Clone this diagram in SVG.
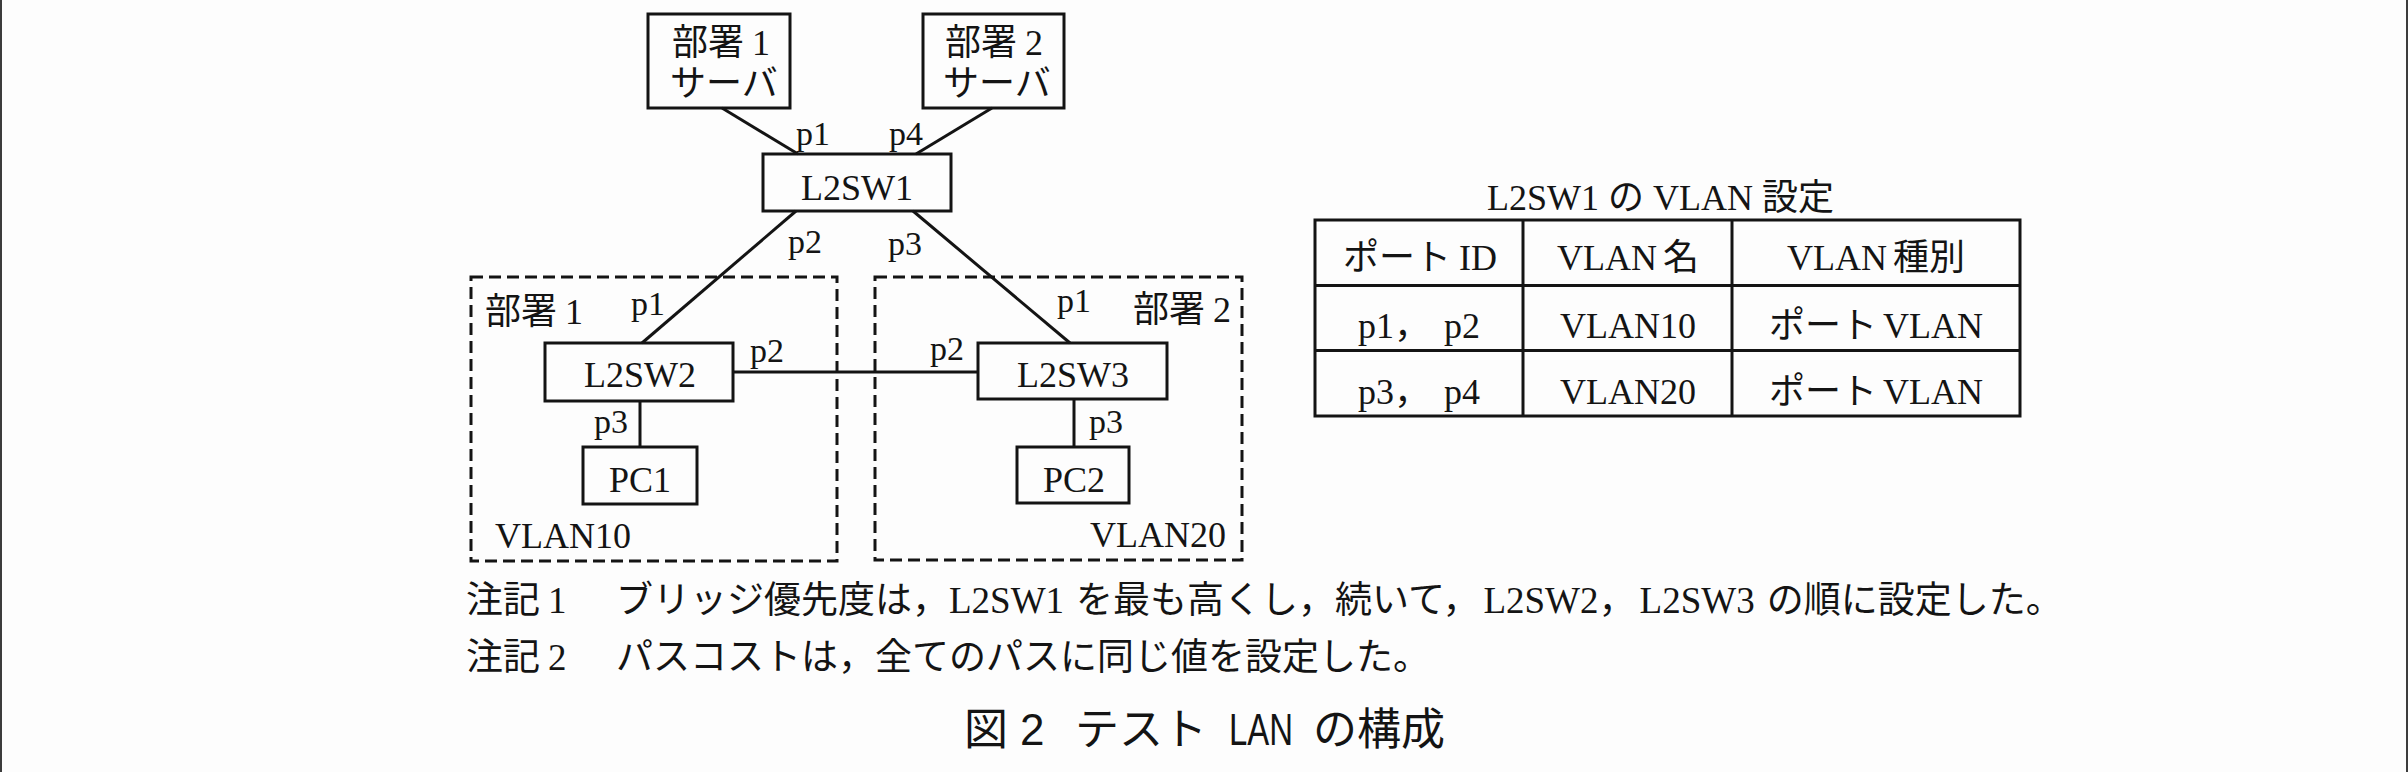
<svg xmlns="http://www.w3.org/2000/svg" width="2408" height="772" viewBox="0 0 2408 772">
<style>
text{font-family:"Liberation Serif","Noto Sans CJK JP",serif;fill:#141414;}
.t36{font-size:36px;}
.lb{font-size:34px;}
.c{text-anchor:middle;}
.box{fill:none;stroke:#141414;stroke-width:3;}
.ln{fill:none;stroke:#141414;stroke-width:3;}
.dash{fill:none;stroke:#141414;stroke-width:3;stroke-dasharray:12 6;}
.cap{font-family:"Liberation Sans","Noto Sans CJK JP",sans-serif;font-size:44px;}
.note{font-size:37px;}
</style>
<rect x="0" y="0" width="2408" height="772" fill="#fdfdfd"/>
<rect x="0" y="0" width="2" height="772" fill="#3c3c3c"/>
<rect x="2406" y="0" width="2" height="772" fill="#3c3c3c"/>

<g id="vlan10-area">
<rect class="dash" x="471" y="277" width="366" height="284"/>
<text class="t36" x="485" y="324">部署<tspan dx="8">1</tspan></text>
<text class="t36" x="495" y="548">VLAN10</text>
</g>
<g id="vlan20-area">
<rect class="dash" x="875" y="277" width="367" height="283"/>
<text class="t36" x="1133" y="322">部署<tspan dx="8">2</tspan></text>
<text class="t36" x="1090" y="547">VLAN20</text>
</g>

<g id="connectors">
<line class="ln" x1="722" y1="108" x2="798" y2="154"/>
<line class="ln" x1="992" y1="108" x2="916" y2="154"/>
<line class="ln" x1="796" y1="211" x2="642" y2="343"/>
<line class="ln" x1="913" y1="211" x2="1070" y2="343"/>
<line class="ln" x1="733" y1="372" x2="978" y2="372"/>
<line class="ln" x1="640" y1="401" x2="640" y2="447"/>
<line class="ln" x1="1074" y1="398" x2="1074" y2="447"/>
<text class="lb" x="796" y="145">p1</text>
<text class="lb" x="889" y="145">p4</text>
<text class="lb" x="788" y="253">p2</text>
<text class="lb" x="888" y="255">p3</text>
<text class="lb" x="631" y="315">p1</text>
<text class="lb" x="750" y="362">p2</text>
<text class="lb" x="594" y="433">p3</text>
<text class="lb" x="1057" y="312">p1</text>
<text class="lb" x="930" y="360">p2</text>
<text class="lb" x="1089" y="433">p3</text>
</g>

<g id="server1">
<rect class="box" x="648" y="14" width="142" height="94"/>
<text class="t36" x="672" y="55">部署<tspan dx="8">1</tspan></text>
<text class="t36" x="670" y="96">サーバ</text>
</g>
<g id="server2">
<rect class="box" x="923" y="14" width="141" height="94"/>
<text class="t36" x="945" y="55">部署<tspan dx="8">2</tspan></text>
<text class="t36" x="943" y="96">サーバ</text>
</g>
<g id="l2sw1">
<rect class="box" x="763" y="154" width="188" height="57"/>
<text class="t36 c" x="857" y="200">L2SW1</text>
</g>
<g id="l2sw2">
<rect class="box" x="545" y="343" width="188" height="58"/>
<text class="t36 c" x="640" y="387">L2SW2</text>
</g>
<g id="l2sw3">
<rect class="box" x="978" y="343" width="189" height="56"/>
<text class="t36 c" x="1073" y="387">L2SW3</text>
</g>
<g id="pc1">
<rect class="box" x="583" y="447" width="114" height="57"/>
<text class="t36 c" x="640" y="492">PC1</text>
</g>
<g id="pc2">
<rect class="box" x="1017" y="447" width="112" height="56"/>
<text class="t36 c" x="1074" y="492">PC2</text>
</g>

<g id="vlan-table">
<text class="t36" x="1487" y="210">L2SW1<tspan dx="9">の</tspan><tspan dx="9">VLAN</tspan><tspan dx="9">設定</tspan></text>
<rect class="box" x="1315" y="220" width="705" height="196"/>
<line class="ln" x1="1315" y1="285.5" x2="2020" y2="285.5"/>
<line class="ln" x1="1315" y1="350.5" x2="2020" y2="350.5"/>
<line class="ln" x1="1523" y1="220" x2="1523" y2="416"/>
<line class="ln" x1="1732" y1="220" x2="1732" y2="416"/>
<text class="t36 c" x="1420" y="270">ポート<tspan dx="8">ID</tspan></text>
<text class="t36 c" x="1628" y="270">VLAN<tspan dx="6">名</tspan></text>
<text class="t36 c" x="1876" y="270">VLAN<tspan dx="6">種別</tspan></text>
<text class="t36 c" x="1419" y="338">p1，<tspan dx="14">p2</tspan></text>
<text class="t36 c" x="1628" y="338">VLAN10</text>
<text class="t36 c" x="1876" y="338">ポート<tspan dx="6">VLAN</tspan></text>
<text class="t36 c" x="1419" y="404">p3，<tspan dx="14">p4</tspan></text>
<text class="t36 c" x="1628" y="404">VLAN20</text>
<text class="t36 c" x="1876" y="404">ポート<tspan dx="6">VLAN</tspan></text>
</g>

<g id="notes">
<text class="note" x="466" y="613">注記<tspan dx="8">1</tspan></text>
<text class="note" x="616" y="613">ブリッジ優先度は，L2SW1<tspan dx="12">を最も高くし，続いて，</tspan><tspan dx="4">L2SW2，</tspan><tspan dx="4">L2SW3</tspan><tspan dx="12">の順に設定した。</tspan></text>
<text class="note" x="466" y="670">注記<tspan dx="8">2</tspan></text>
<text class="note" x="616" y="670">パスコストは，全てのパスに同じ値を設定した。</text>
</g>

<g id="caption">
<text class="cap" x="964" y="745">図<tspan dx="12">2</tspan><tspan x="1075">テスト</tspan><tspan x="1229" textLength="64" lengthAdjust="spacingAndGlyphs">LAN</tspan><tspan x="1313">の構成</tspan></text>
</g>
</svg>
